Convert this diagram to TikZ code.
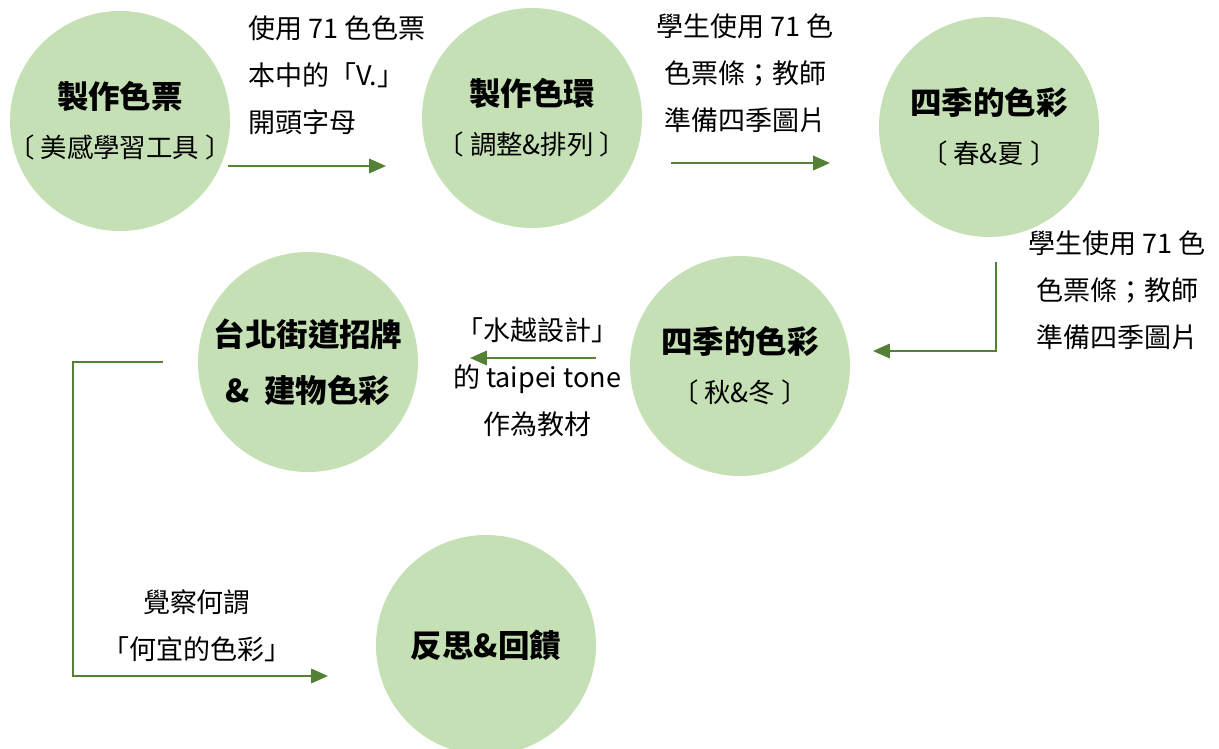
\documentclass[tikz,border=0pt]{standalone}
\usepackage{fontspec}
\setmainfont{Noto Sans CJK TC}
\usetikzlibrary{arrows.meta}
\definecolor{leafgreen}{HTML}{C5E0B4}
\definecolor{stemgreen}{HTML}{538135}
\tikzset{
	stage/.style={circle, fill=leafgreen, minimum size=5.5cm, inner sep=-30pt, align=center, font=\fontsize{18.8}{35}\selectfont},
	flow/.style={draw=stemgreen, line width=1.4pt, -{Triangle[length=0.42cm,width=0.36cm]}},
	note/.style={align=center, inner sep=0pt, font=\fontsize{19.2}{33.5}\selectfont},
}
\newcommand{\stagetitle}[1]{{\fontsize{22.4}{24}\selectfont\bfseries #1}}

\begin{document}
\begin{tikzpicture}[x=0.025cm, y=-0.025cm]
			%%%%% START %%%%%
			\useasboundingbox (0, 0) rectangle (1219, 749);
			
			\node[stage] (prep) at (120, 121) {\stagetitle{製作色票}\\〔 美感學習工具 〕};
			\node[stage] (wheel) at (532, 118) {\stagetitle{製作色環}\\〔 調整\&排列 〕};
			\node[stage] (spring) at (989, 127) {\stagetitle{四季的色彩}\\〔 春\&夏 〕};
			\node[stage] (autumn) at (740, 366) {\stagetitle{四季的色彩}\\〔 秋\&冬 〕};
			\node[stage] (street) at (308, 362) {\stagetitle{台北街道招牌}\\[5pt]\stagetitle{\&\ \ 建物色彩}};
			\node[stage] (reflect) at (486, 645) {\stagetitle{反思\&回饋}};
			
			\node[note, align=left, anchor=west] (prepnote) at (248, 75) {使用 71 色色票\\本中的「V.」\\開頭字母};
			\node[note] (wheelnote) at (745, 73) {學生使用 71 色\\色票條；教師\\準備四季圖片};
			\node[note] (springnote) at (1117, 290) {學生使用 71 色\\色票條；教師\\準備四季圖片};
			\node[note] (autumnnote) at (537, 377) {「水越設計」\\的 taipei tone\\作為教材};
			\node[note] (streetnote) at (197, 626) {覺察何謂\\「何宜的色彩」};
			
			\coordinate (prepout) at (228, 166);
			\coordinate (wheelin) at (386, 166);
			\coordinate (wheelout) at (671, 163);
			\coordinate (springin) at (830, 163);
			\coordinate (springout) at (996, 262);
			\coordinate (autumnin) at (873, 351);
			\coordinate (autumnout) at (596, 358);
			\coordinate (streetin) at (470, 358);
			\coordinate (streetout) at (163, 362);
			\coordinate (streetbend) at (73, 362);
			\coordinate (reflectin) at (328, 676);
			
			\draw[flow] (prepout) -- (wheelin);
			\draw[flow] (wheelout) -- (springin);
			\draw[flow] (springout) |- (autumnin);
			\draw[flow] (autumnout) -- (streetin);
			\draw[flow] (streetout) -- (streetbend) |- (reflectin);
			%%%%% END %%%%%
\end{tikzpicture}
\end{document}
